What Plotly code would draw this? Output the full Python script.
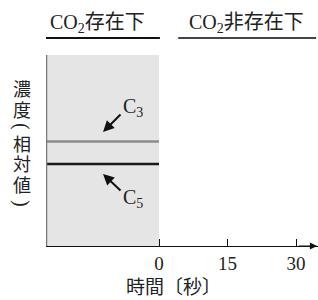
import plotly.graph_objects as go

# data
tick_vals = [0, 15, 30]
tick_text = ["0", "15", "30"]
series_names = ["C<sub>3</sub>", "C<sub>5</sub>"]
series_levels = [0.547, 0.429]
series_colors = ["#8c8c8c", "#1a1a1a"]
x_start, x_end = -24.74, 0
headers = ["CO<sub>2</sub>存在下", "CO<sub>2</sub>非存在下"]
y_title_chars = ["濃", "度", "(", "相", "対", "値", ")"]
x_title = "時間〔秒〕"
x_range = [-24.74, 34.8]

SERIF = "Liberation Serif, DejaVu Serif, Noto Sans CJK JP"
CJK = "Noto Sans CJK JP"
TOP, BOT, LEFT = 55, 246, 46
PH = BOT - TOP


def py(pix):  # pixel y -> paper y
    return (BOT - pix) / PH


def px(pix):  # pixel x -> paper x
    return (pix - LEFT) / (318 - LEFT)


fig = go.Figure()
for name, lvl, col in zip(series_names, series_levels, series_colors):
    fig.add_trace(go.Scatter(x=[x_start, x_end], y=[lvl, lvl], mode="lines",
                             line=dict(color=col, width=2.5), showlegend=False,
                             hoverinfo="skip"))

fig.add_shape(type="rect", xref="x", yref="y", x0=x_start, x1=x_end, y0=0, y1=1,
              fillcolor="#e5e5e5", line=dict(width=0), layer="below")
fig.add_shape(type="line", xref="x", yref="y", x0=x_start, x1=x_start, y0=0, y1=1,
              line=dict(color="#7a7a7a", width=2.5))
fig.add_shape(type="line", xref="x", yref="paper", x0=-24.9, x1=0.2, y0=py(38), y1=py(38),
              line=dict(color="#111", width=2))
fig.add_shape(type="line", xref="x", yref="paper", x0=4.2, x1=34.4, y0=py(38), y1=py(38),
              line=dict(color="#444", width=2))

ann = []
ann.append(dict(x=px(97), y=py(23), xref="paper", yref="paper", text=headers[0],
                showarrow=False, xanchor="center", yanchor="middle",
                font=dict(family=SERIF, size=20, color="#222")))
ann.append(dict(x=px(246), y=py(23), xref="paper", yref="paper", text=headers[1],
                showarrow=False, xanchor="center", yanchor="middle",
                font=dict(family=SERIF, size=20, color="#222")))
ann.append(dict(x=-12.26, y=py(132), xref="x", yref="paper", ax=19, ay=-19, text="",
                showarrow=True, arrowhead=2, arrowsize=1.1, arrowwidth=2, arrowcolor="#111"))
ann.append(dict(x=px(133), y=py(107), xref="paper", yref="paper", text=series_names[0],
                showarrow=False, xanchor="center", yanchor="middle",
                font=dict(family=SERIF, size=20, color="#222")))
ann.append(dict(x=-12.26, y=py(174), xref="x", yref="paper", ax=19, ay=18, text="",
                showarrow=True, arrowhead=2, arrowsize=1.1, arrowwidth=2, arrowcolor="#111"))
ann.append(dict(x=px(133), y=py(198), xref="paper", yref="paper", text=series_names[1],
                showarrow=False, xanchor="center", yanchor="middle",
                font=dict(family=SERIF, size=20, color="#222")))
ann.append(dict(x=34.6, y=0, xref="x", yref="y", ax=-20, ay=0, text="",
                showarrow=True, arrowhead=2, arrowsize=1.2, arrowwidth=1.2, arrowcolor="#111"))
ann.append(dict(x=px(173), y=py(287), xref="paper", yref="paper", text=x_title,
                showarrow=False, xanchor="center", yanchor="middle",
                font=dict(family=SERIF, size=19, color="#222")))
char_y = [88, 109, 126, 143, 163, 184, 203]
for ch, cy in zip(y_title_chars, char_y):
    paren = ch in "()"
    ann.append(dict(x=px(22), y=py(cy), xref="paper", yref="paper", text=ch,
                    showarrow=False, xanchor="center", yanchor="middle",
                    textangle=90 if paren else 0,
                    font=dict(family=SERIF if paren else CJK, size=20 if paren else 18,
                              color="#222")))

fig.update_layout(
    width=318, height=300,
    margin=dict(l=LEFT, r=0, t=TOP, b=300 - BOT),
    paper_bgcolor="white", plot_bgcolor="white",
    annotations=ann,
    xaxis=dict(range=x_range, showgrid=False, zeroline=False, showline=True,
               linecolor="#111", linewidth=1.2, ticks="inside", ticklen=7,
               tickcolor="#111", tickvals=tick_vals, ticktext=tick_text,
               ticklabelstandoff=0,
               tickfont=dict(family=SERIF, size=19, color="#222"), fixedrange=True),
    yaxis=dict(range=[0, 1], showgrid=False, zeroline=False, showline=False,
               showticklabels=False, ticks="", fixedrange=True),
)

fig.write_html("out.html", config={"displayModeBar": False},
               post_script="document.body.style.margin='0';")
